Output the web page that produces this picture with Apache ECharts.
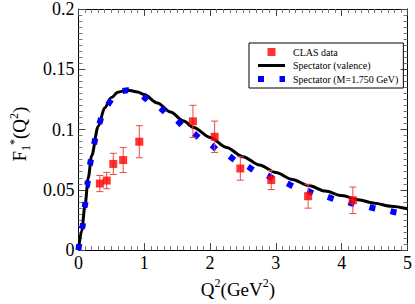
<!DOCTYPE html>
<html><head><meta charset="utf-8">
<script src="https://cdn.jsdelivr.net/npm/echarts@6/dist/echarts.min.js"></script>
<style>html,body{margin:0;padding:0;background:#fff}#c{width:415px;height:304px}</style>
</head><body><div id="c"></div>
<script>
// ---- data ----
const xTickValues = [0, 1, 2, 3, 4, 5];
const yTickValues = [0, 0.05, 0.1, 0.15, 0.2];

const clasQ   = [0.326, 0.43, 0.53, 0.68, 0.925, 1.74, 2.07, 2.46, 2.93, 3.49, 4.17];
const clasF   = [0.0552, 0.0577, 0.0715, 0.0747, 0.0899, 0.1068, 0.094, 0.0677, 0.0581, 0.0447, 0.0413];
const clasErr = [0.0067, 0.0068, 0.0088, 0.0103, 0.0133, 0.0133, 0.013, 0.0097, 0.0079, 0.0099, 0.011];

const valenceQ = [0, 0.05, 0.1, 0.15, 0.2, 0.3, 0.4, 0.5, 0.6, 0.75, 0.9, 1.0, 1.2, 1.4, 1.6, 1.75, 2.0, 2.25, 2.5, 2.75, 3.0, 3.25, 3.5, 3.75, 4.0, 4.25, 4.5, 4.75, 5.0];
const valenceF = [0, 0.016, 0.037, 0.060, 0.078, 0.1025, 0.118, 0.1265, 0.131, 0.1327, 0.1312, 0.129, 0.122, 0.1145, 0.107, 0.1017, 0.0935, 0.0852, 0.0775, 0.0706, 0.0643, 0.0586, 0.0535, 0.049, 0.0452, 0.0418, 0.0389, 0.0364, 0.0343];

const spectatorQ = [0, 0.06, 0.094, 0.129, 0.168, 0.227, 0.297, 0.405, 0.604, 0.75, 0.92, 1.18, 1.43, 1.68, 1.94, 2.21, 2.48, 2.76, 3.06, 3.36, 3.65, 3.97, 4.27, 4.58, 4.90, 5.0];
const spectatorF = [0, 0.019, 0.0356, 0.0528, 0.0699, 0.0866, 0.103, 0.119, 0.1315, 0.1325, 0.129, 0.1198, 0.1097, 0.099, 0.0892, 0.080, 0.0715, 0.064, 0.0574, 0.0512, 0.046, 0.0414, 0.0375, 0.034, 0.0308, 0.0299];

const seriesNames = ['CLAS data', 'Spectator (valence)', 'Spectator (M=1.750 GeV)'];

// ---- build ----
const zip = (a, b) => a.map((v, i) => [v, b[i]]);
const FONT = 'Liberation Serif';
const BLUE_DASH = [6, 15.5];

const baseAxis = {
  type: 'value',
  axisLine: { show: true, onZero: false, lineStyle: { color: '#000', width: 1 } },
  axisTick: { show: true, inside: true, length: 7, lineStyle: { color: '#444', width: 1 } },
  minorTick: { show: true, splitNumber: 10, length: 4, lineStyle: { color: '#777', width: 1 } },
  splitLine: { show: false },
  minorSplitLine: { show: false }
};

const chart = echarts.init(document.getElementById('c'), null, { renderer: 'svg' });
chart.setOption({
  animation: false,
  backgroundColor: '#fff',
  grid: { left: 72, right: 6, top: 6, bottom: 47, containLabel: false },
  legend: {
    orient: 'vertical',
    left: 249, top: 43,
    padding: [4, 5, 4, 6],
    itemGap: 3.5,
    itemWidth: 27, itemHeight: 8,
    borderColor: '#000', borderWidth: 1,
    align: 'left',
    textStyle: { fontFamily: FONT, fontSize: 10, color: '#000', padding: [0, 0, 0, 3] },
    data: [
      { name: seriesNames[0], icon: 'path://M0,0h10v10h-10z' },
      { name: seriesNames[1], itemStyle: { opacity: 0 },
        lineStyle: { color: '#000', width: 3, type: 'solid' } },
      { name: seriesNames[2], itemStyle: { opacity: 0 },
        lineStyle: { color: '#0000ff', width: 6, type: BLUE_DASH, cap: 'butt' } }
    ]
  },
  xAxis: [
    Object.assign({}, baseAxis, {
      min: xTickValues[0], max: xTickValues[xTickValues.length - 1], interval: 1,
      position: 'bottom',
      axisLabel: { fontFamily: FONT, fontSize: 18, color: '#000', margin: 4 },
      name: '{a|Q}{s|2}{a|(GeV}{s|2}{a|)}',
      nameLocation: 'middle', nameGap: 21,
      nameTextStyle: {
        padding: [0, 10, 0, 0],
        rich: {
          a: { fontFamily: FONT, fontSize: 19, color: '#000', lineHeight: 22, verticalAlign: 'bottom' },
          s: { fontFamily: FONT, fontSize: 12, color: '#000', lineHeight: 14, verticalAlign: 'top' }
        }
      }
    }),
    Object.assign({}, baseAxis, {
      min: xTickValues[0], max: xTickValues[xTickValues.length - 1], interval: 1,
      position: 'top', axisLabel: { show: false }
    })
  ],
  yAxis: [
    Object.assign({}, baseAxis, {
      min: yTickValues[0], max: yTickValues[yTickValues.length - 1], interval: 0.05,
      position: 'left',
      axisLabel: { fontFamily: FONT, fontSize: 18, color: '#000', margin: 4 },
      name: '{a|F}{sub|1}{s|*}{a|(Q}{s|2}{a|)}',
      nameLocation: 'middle', nameGap: 46, nameRotate: 90,
      nameTextStyle: {
        padding: [0, 9, 0, 0],
        rich: {
          a: { fontFamily: FONT, fontSize: 19, color: '#000', lineHeight: 24, verticalAlign: 'bottom', padding: [0, 0, 3, 0] },
          sub: { fontFamily: FONT, fontSize: 12, color: '#000', lineHeight: 14, verticalAlign: 'bottom' },
          s: { fontFamily: FONT, fontSize: 12, color: '#000', lineHeight: 14, verticalAlign: 'top' }
        }
      }
    }),
    Object.assign({}, baseAxis, {
      min: yTickValues[0], max: yTickValues[yTickValues.length - 1], interval: 0.05,
      position: 'right', axisLabel: { show: false }
    })
  ],
  series: [
    {
      name: seriesNames[1], type: 'line', xAxisIndex: 0, yAxisIndex: 0,
      data: zip(valenceQ, valenceF), symbol: 'none', showSymbol: false,
      smooth: 0.3, smoothMonotone: 'x',
      lineStyle: { color: '#000', width: 3 }, itemStyle: { color: '#000' }, z: 2
    },
    {
      name: seriesNames[2], type: 'line', xAxisIndex: 0, yAxisIndex: 0,
      data: zip(spectatorQ, spectatorF), symbol: 'none', showSymbol: false,
      smooth: 0.3, smoothMonotone: 'x',
      lineStyle: { color: '#0000ff', width: 6, type: BLUE_DASH, cap: 'butt' },
      itemStyle: { color: '#0000ff' }, z: 3
    },
    {
      name: 'errors', type: 'custom', xAxisIndex: 0, yAxisIndex: 0,
      data: clasQ.map((q, i) => [q, clasF[i] - clasErr[i], clasF[i] + clasErr[i]]),
      encode: { x: 0, y: [1, 2] },
      renderItem: function (params, api) {
        const x = api.value(0);
        const lo = api.coord([x, api.value(1)]);
        const hi = api.coord([x, api.value(2)]);
        const w = 3.5;
        const st = { stroke: '#f04646', lineWidth: 1 };
        return {
          type: 'group', children: [
            { type: 'line', shape: { x1: lo[0], y1: lo[1], x2: hi[0], y2: hi[1] }, style: st },
            { type: 'line', shape: { x1: hi[0] - w, y1: hi[1], x2: hi[0] + w, y2: hi[1] }, style: st },
            { type: 'line', shape: { x1: lo[0] - w, y1: lo[1], x2: lo[0] + w, y2: lo[1] }, style: st }
          ]
        };
      },
      z: 4, silent: true
    },
    {
      name: seriesNames[0], type: 'scatter', xAxisIndex: 0, yAxisIndex: 0,
      data: zip(clasQ, clasF), symbol: 'rect', symbolSize: 8,
      itemStyle: { color: '#ff0000' }, z: 5
    }
  ]
});
</script>
</body></html>
